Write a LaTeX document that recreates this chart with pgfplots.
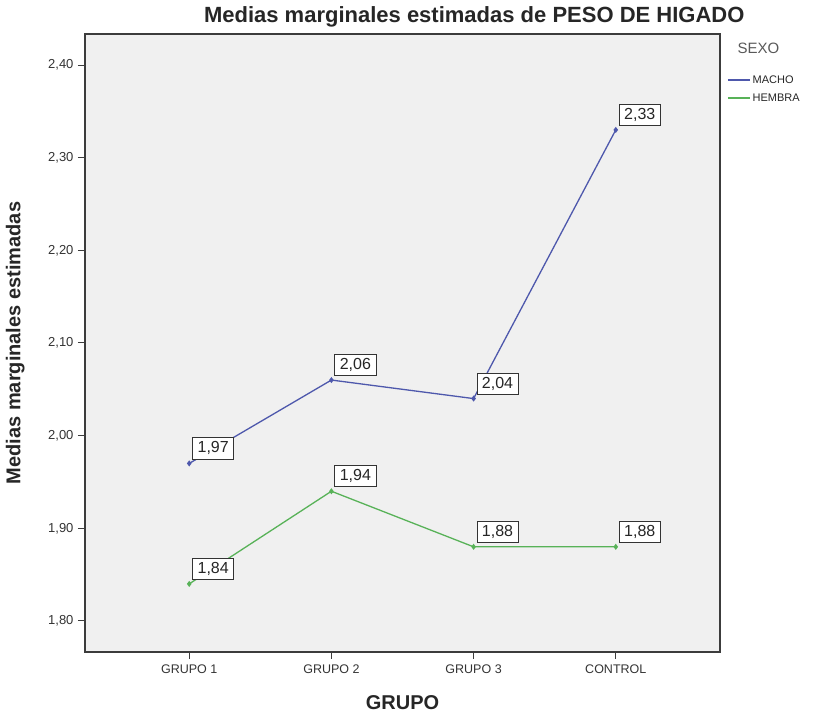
\documentclass[border=0pt]{standalone}
\usepackage{pgfplots}
\pgfplotsset{compat=1.18}
\usepackage{fontspec}
\setmainfont{Liberation Sans}
\definecolor{macho}{RGB}{78,88,172}
\definecolor{hembra}{RGB}{88,178,88}
\definecolor{bgc}{RGB}{240,240,240}
\definecolor{framec}{RGB}{60,60,60}
\begin{document}
\begin{tikzpicture}[x=1pt,y=1pt]
\useasboundingbox (0,0) rectangle (822,719);
\begin{axis}[
  at={(85pt,67pt)}, anchor=south west,
  scale only axis, width=635pt, height=618pt,
  xmin=-0.733, xmax=3.733,
  ymin=1.7665, ymax=2.4335,
  axis background/.style={fill=bgc},
  axis line style={framec, line width=1.4pt},
  xtick={0,1,2,3},
  xticklabels={GRUPO 1,GRUPO 2,GRUPO 3,CONTROL},
  ytick={1.8,1.9,2.0,2.1,2.2,2.3,2.4},
  tick align=outside,
  xtick pos=bottom, ytick pos=left,
  major tick length=7pt,
  tick style={framec, line width=1pt},
  /pgf/number format/.cd, use comma, fixed, fixed zerofill, precision=2, assume math mode=true,
  /pgfplots/.cd,
  yticklabel style={font=\fontsize{13}{15}\selectfont, text=black!80, xshift=-1pt},
  xticklabel style={font=\fontsize{12.5}{15}\selectfont, text=black!80, yshift=-2pt},
  xlabel={GRUPO},
  xlabel style={at={(axis description cs:0.5,0)}, anchor=center, yshift=-51pt, font=\fontsize{20}{24}\selectfont\bfseries, text=black!85},
  ylabel={Medias marginales estimadas},
  ylabel style={at={(axis description cs:-0.110,0.5)}, anchor=center, xshift=0pt, yshift=0pt, font=\fontsize{20}{24}\selectfont\bfseries, text=black!85},
  every axis title shift=0pt,
  title={Medias marginales estimadas de PESO DE HIGADO},
  title style={at={(axis description cs:0.613,1.0275)}, anchor=center, yshift=0pt, font=\fontsize{22}{26}\selectfont\bfseries, text=black!85},
  legend style={at={(axis description cs:1,0.935)}, anchor=north west, xshift=7pt, draw=none, fill=none,
    font=\fontsize{11}{13}\selectfont, text=black!85, inner xsep=0pt, inner ysep=0pt, row sep=7pt,
    nodes={inner xsep=2pt, inner ysep=1pt}},
  legend cell align=left,
  legend image code/.code={\draw[#1, mark=none, line width=1.5pt] (0pt,0pt) -- (22pt,0pt);},
  nodes near coords={\pgfmathprintnumber{\pgfplotspointmeta}},
  every node near coord/.append style={anchor=south west, xshift=3pt, yshift=4pt, draw=black!80, fill=white,
    line width=0.8pt, inner xsep=5pt, inner ysep=4pt, font=\fontsize{16}{18}\selectfont, text=black!85},
]
\addplot[macho, line width=1.3pt, mark=diamond*, mark size=2pt] coordinates {
  (0,1.97) (1,2.06) (2,2.04) (3,2.33)
};
\addlegendentry{MACHO}
\addplot[hembra, line width=1.3pt, mark=diamond*, mark size=2pt] coordinates {
  (0,1.84) (1,1.94) (2,1.88) (3,1.88)
};
\addlegendentry{HEMBRA}
\end{axis}
\node[anchor=west, font=\fontsize{15}{18}\selectfont, text=black!65] at (734,671) {SEXO};
\end{tikzpicture}
\end{document}
